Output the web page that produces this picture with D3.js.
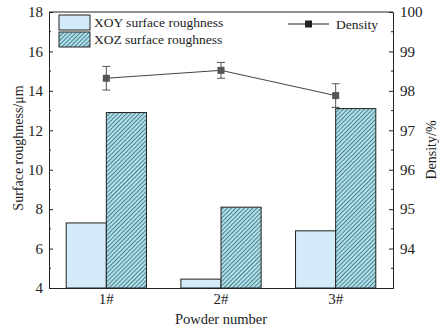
<!DOCTYPE html>
<html>
<head>
<meta charset="utf-8">
<script src="https://cdn.jsdelivr.net/npm/d3@7"></script>
<style>
  body { margin: 0; background: #fff; }
  svg { font-family: "Liberation Serif", "Times New Roman", serif; }
  .axis path, .axis line { stroke: #222; }
  .axis text { font-size: 15px; fill: #222; font-family: "Liberation Serif", serif; }
</style>
</head>
<body>
<div id="chart"></div>
<script>
const categories = ['1#', '2#', '3#'];
const xoyRoughness = [7.3, 4.45, 6.9];
const xozRoughness = [12.9, 8.1, 13.1];
const density = [98.32, 98.52, 97.88];
const densityErr = [0.3, 0.2, 0.3];
const leftTicks = [4, 6, 8, 10, 12, 14, 16, 18];
const rightTicks = [94, 95, 96, 97, 98, 99, 100];

const width = 439, height = 333;
const margin = {top: 12, right: 46, bottom: 45, left: 49};
const w = width - margin.left - margin.right;
const h = height - margin.top - margin.bottom;

const svg = d3.select('#chart').append('svg')
  .attr('width', width)
  .attr('height', height);

const defs = svg.append('defs');
const hatch = defs.append('pattern')
  .attr('id', 'hatch')
  .attr('patternUnits', 'userSpaceOnUse')
  .attr('width', 3)
  .attr('height', 3)
  .attr('patternTransform', 'rotate(45)');
hatch.append('rect').attr('width', 3).attr('height', 3).attr('fill', '#a9e3ef');
hatch.append('line')
  .attr('x1', 0).attr('y1', 0).attr('x2', 0).attr('y2', 3)
  .attr('stroke', '#1c262c').attr('stroke-width', 1.1);

const g = svg.append('g').attr('transform', `translate(${margin.left},${margin.top})`);

const x = d3.scaleBand().domain(categories).range([0, w]).paddingInner(0).paddingOuter(0);
const inner = d3.scaleBand().domain(['xoy', 'xoz']).range([0, x.bandwidth() * 0.7]);
const yL = d3.scaleLinear().domain([4, 18]).range([h, 0]);
const yR = d3.scaleLinear().domain([93, 100]).range([h, 0]);

// bars
const groups = g.selectAll('.grp')
  .data(categories)
  .enter().append('g')
  .attr('transform', d => `translate(${x(d) + x.bandwidth() * 0.15},0)`);
groups.append('rect')
  .attr('x', inner('xoy'))
  .attr('y', (d, i) => yL(xoyRoughness[i]))
  .attr('width', inner.bandwidth())
  .attr('height', (d, i) => h - yL(xoyRoughness[i]))
  .attr('fill', '#d3ebf8')
  .attr('stroke', '#222')
  .attr('stroke-width', 1);
groups.append('rect')
  .attr('x', inner('xoz'))
  .attr('y', (d, i) => yL(xozRoughness[i]))
  .attr('width', inner.bandwidth())
  .attr('height', (d, i) => h - yL(xozRoughness[i]))
  .attr('fill', 'url(#hatch)')
  .attr('stroke', '#222')
  .attr('stroke-width', 1);

// axes
const tickIn = 4, minorIn = 2;
const left = g.append('g').attr('class', 'axis')
  .call(d3.axisLeft(yL).tickValues(leftTicks).tickSize(-tickIn).tickPadding(6));
left.append('g').selectAll('line')
  .data(d3.range(5, 18, 2))
  .enter().append('line')
  .attr('x1', 0).attr('x2', minorIn)
  .attr('y1', d => yL(d)).attr('y2', d => yL(d))
  .attr('stroke', '#222');

const right = g.append('g').attr('class', 'axis')
  .attr('transform', `translate(${w},0)`)
  .call(d3.axisRight(yR).tickValues(rightTicks).tickFormat(d3.format('d')).tickSize(-tickIn).tickPadding(7));
right.append('g').selectAll('line')
  .data(d3.range(93.5, 100, 1))
  .enter().append('line')
  .attr('x1', 0).attr('x2', -minorIn)
  .attr('y1', d => yR(d)).attr('y2', d => yR(d))
  .attr('stroke', '#222');

g.append('g').attr('class', 'axis')
  .attr('transform', `translate(0,${h})`)
  .call(d3.axisBottom(x).tickSize(0).tickPadding(5));

g.append('line')
  .attr('x1', 0).attr('x2', w).attr('y1', 0).attr('y2', 0)
  .attr('stroke', '#222');

// density line with error bars
const line = d3.line()
  .x((d, i) => x(categories[i]) + x.bandwidth() / 2)
  .y(d => yR(d));
g.append('path')
  .datum(density)
  .attr('d', line)
  .attr('fill', 'none')
  .attr('stroke', '#444')
  .attr('stroke-width', 1);

const pts = g.selectAll('.pt')
  .data(density)
  .enter().append('g')
  .attr('transform', (d, i) => `translate(${x(categories[i]) + x.bandwidth() / 2},0)`);
pts.append('line')
  .attr('y1', (d, i) => yR(d + densityErr[i]))
  .attr('y2', (d, i) => yR(d - densityErr[i]))
  .attr('stroke', '#555');
pts.append('line')
  .attr('x1', -4).attr('x2', 4)
  .attr('y1', (d, i) => yR(d + densityErr[i]))
  .attr('y2', (d, i) => yR(d + densityErr[i]))
  .attr('stroke', '#555');
pts.append('line')
  .attr('x1', -4).attr('x2', 4)
  .attr('y1', (d, i) => yR(d - densityErr[i]))
  .attr('y2', (d, i) => yR(d - densityErr[i]))
  .attr('stroke', '#555');
pts.append('rect')
  .attr('x', -3.5).attr('width', 7).attr('height', 7)
  .attr('y', d => yR(d) - 3.5)
  .attr('fill', '#555');

// axis titles
svg.append('text')
  .attr('transform', `translate(18,${margin.top + h / 2 - 2}) rotate(-90)`)
  .attr('text-anchor', 'middle')
  .attr('dy', '0.35em')
  .style('font-size', '14px')
  .attr('fill', '#222')
  .text('Surface roughness/μm');
svg.append('text')
  .attr('transform', `translate(431,${margin.top + h / 2}) rotate(-90)`)
  .attr('text-anchor', 'middle')
  .attr('dy', '0.35em')
  .style('font-size', '14px')
  .attr('fill', '#222')
  .text('Density/%');
svg.append('text')
  .attr('x', margin.left + w / 2)
  .attr('y', 324)
  .attr('text-anchor', 'middle')
  .style('font-size', '14.5px')
  .attr('fill', '#222')
  .text('Powder number');

// legends
const legend = [
  {label: 'XOY surface roughness', fill: '#d3ebf8'},
  {label: 'XOZ surface roughness', fill: 'url(#hatch)'}
];
const lg = svg.append('g').attr('transform', 'translate(59,15)');
lg.selectAll('rect')
  .data(legend)
  .enter().append('rect')
  .attr('x', 0)
  .attr('y', (d, i) => i * 17)
  .attr('width', 31)
  .attr('height', 15)
  .attr('fill', d => d.fill)
  .attr('stroke', '#222');
lg.selectAll('text')
  .data(legend)
  .enter().append('text')
  .attr('x', 35)
  .attr('y', (d, i) => i * 17 + 12)
  .style('font-size', '13.5px')
  .attr('fill', '#222')
  .text(d => d.label);

const dl = svg.append('g').attr('transform', 'translate(288,24)');
dl.append('line').attr('x1', 0).attr('x2', 41).attr('stroke', '#222');
dl.append('rect').attr('x', 17).attr('y', -3.5).attr('width', 7).attr('height', 7).attr('fill', '#222');
dl.append('text').attr('x', 48).attr('y', 4.5)
  .style('font-size', '13.5px').attr('fill', '#222').text('Density');
</script>
</body>
</html>
